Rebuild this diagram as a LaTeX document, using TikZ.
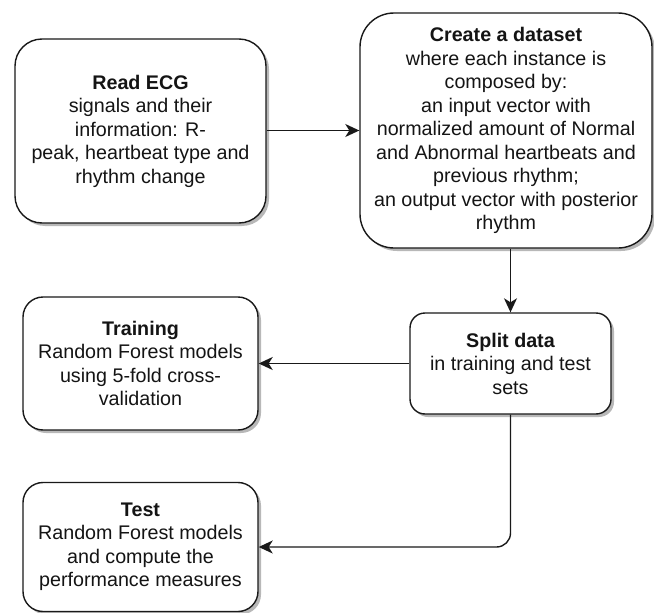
\documentclass[tikz,border=0pt]{standalone}
\usepackage{fontspec}
\setmainfont{Liberation Sans}
\usetikzlibrary{arrows.meta,shadows}
\begin{document}
\begin{tikzpicture}[x=1pt,y=-1pt,
  box/.style={draw=black!90, line width=1.4pt, fill=white, align=center, inner sep=0pt,
    text=black!92, font=\fontsize{19.7}{23.5}\selectfont,
    drop shadow={shadow xshift=3pt, shadow yshift=-3pt, fill=black!28, opacity=1}},
  conn/.style={draw=black!90, line width=1.4pt, -{Stealth[length=14pt,width=13pt,inset=4pt]}}
]
\useasboundingbox (0,0) rectangle (654,613);

\node[box, minimum width=251pt, minimum height=184pt, rounded corners=27pt] (read) at (140.5,131)
  {\textbf{Read ECG}\\signals and their\\information: R-\\peak, heartbeat type and\\rhythm change};

\node[box, minimum width=292pt, minimum height=235pt, rounded corners=34pt] (create) at (506,130.5)
  {\textbf{Create a dataset}\\where each instance is\\composed by:\\an input vector with\\normalized amount of Normal\\and Abnormal heartbeats and\\previous rhythm;\\an output vector with posterior\\rhythm};

\node[box, minimum width=201pt, minimum height=101pt, rounded corners=15pt] (split) at (510.5,363.5)
  {\textbf{Split data}\\in training and test\\sets};

\node[box, minimum width=235pt, minimum height=133pt, rounded corners=20pt] (train) at (140.5,363.5)
  {\textbf{Training}\\Random Forest models\\using 5-fold cross-\\validation};

\node[box, minimum width=235pt, minimum height=129pt, rounded corners=20pt] (test) at (140.5,547)
  {\textbf{Test}\\Random Forest models\\and compute the\\performance measures};

\draw[conn] (read.east |- create.west) -- (create.west);
\draw[conn] (create.south -| split.north) -- (split.north);
\draw[conn] (split.west) -- (train.east);
\draw[conn, rounded corners=14pt] (split.south) |- (test.east);
\end{tikzpicture}
\end{document}
